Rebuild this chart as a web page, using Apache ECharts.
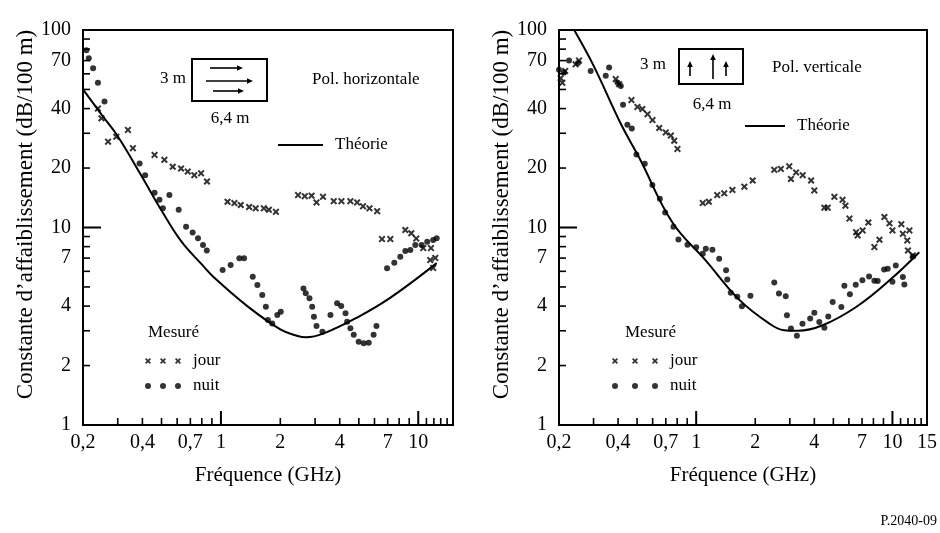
<!DOCTYPE html>
<html><head><meta charset="utf-8">
<script src="https://cdn.jsdelivr.net/npm/echarts@6/dist/echarts.min.js"></script>
<style>html,body{margin:0;padding:0;background:#fff}#c{width:940px;height:533px}</style>
</head><body><div id="c"></div><script>
// ---------- data (frequency GHz, attenuation dB/100 m) ----------
const leftTheory = [[0.2,50],[0.25,37],[0.3,29],[0.394,18.4],[0.5,12.2],[0.63,8.5],[0.8,6.5],[0.92,5.6],[1.36,4.0],[2.0,3.05],[2.45,2.82],[2.7,2.78],[3.3,2.9],[4.9,3.5],[7.2,4.4],[12.4,6.6]];
const leftJour = [[0.238,40],[0.248,35.7],[0.268,27.2],[0.295,28.8],[0.338,31.2],[0.358,25.2],[0.461,23.3],[0.517,22],[0.57,20.3],[0.628,19.9],[0.679,19.2],[0.733,18.4],[0.793,18.8],[0.85,17.1],
  [1.08,13.5],[1.17,13.3],[1.26,13],[1.39,12.7],[1.5,12.5],[1.65,12.5],[1.75,12.3],[1.9,12],
  [2.46,14.6],[2.66,14.4],[2.88,14.5],[3.05,13.4],[3.29,14.3],[3.73,13.6],[4.08,13.6],[4.53,13.6],[4.9,13.4],[5.25,12.8],[5.66,12.5],[6.19,12.1],
  [6.55,8.74],[7.22,8.74],[8.6,9.71],[9.22,9.35],[9.77,8.79],[10.6,7.87],[11.6,7.87],[11.5,6.84],[12.2,7.01],[11.9,6.24]];
const leftNuit = [[0.208,79],[0.214,72],[0.225,64],[0.238,54],[0.257,43.4],[0.387,21.1],[0.413,18.4],[0.461,15],[0.488,13.8],[0.508,12.5],[0.548,14.6],[0.611,12.3],[0.666,10.1],[0.719,9.44],[0.765,8.82],[0.811,8.15],[0.848,7.65],
  [1.02,6.09],[1.12,6.46],[1.24,6.98],[1.31,6.98],[1.45,5.63],[1.53,5.12],[1.62,4.55],[1.69,3.97],[1.73,3.4],[1.82,3.27],[1.93,3.61],[2.01,3.75],
  [2.62,4.91],[2.69,4.64],[2.81,4.38],[2.9,3.97],[2.96,3.53],[3.05,3.17],[3.27,2.97],[3.59,3.61],[3.88,4.13],[4.07,4.01],[4.28,3.68],[4.36,3.33],[4.53,3.09],[4.71,2.86],[4.99,2.64],[5.29,2.59],[5.61,2.61],[5.94,2.86],[6.14,3.17],
  [6.95,6.22],[7.56,6.63],[8.11,7.12],[8.6,7.6],[9.12,7.69],[9.66,8.15],[10.4,8.15],[11.1,8.47],[11.9,8.64],[12.4,8.82]];
const rightTheory = [[0.239,100],[0.3,66],[0.413,33.5],[0.512,22.6],[0.757,10.6],[1.12,6.8],[1.66,4.3],[2.36,3.26],[2.8,3.02],[3.3,3.0],[4.41,3.2],[6.53,3.96],[9.66,5.4],[13.7,7.5]];
const rightJour = [[0.204,57],[0.208,54],[0.215,62],[0.243,67],[0.253,70],[0.389,56.4],[0.405,53.2],[0.468,44.2],[0.502,40.8],[0.532,39.8],[0.565,37.5],[0.599,35],[0.648,31.9],[0.7,30.3],[0.743,29.2],[0.773,27.5],[0.803,25],
  [1.08,13.3],[1.16,13.5],[1.28,14.6],[1.39,14.9],[1.53,15.5],[1.76,16.1],[1.94,17.3],[2.5,19.6],[2.7,19.8],[2.98,20.4],[3.04,17.6],[3.23,19],[3.49,18.4],[3.85,17.3],[4,15.4],
  [4.5,12.6],[4.68,12.6],[5.06,14.3],[5.57,13.8],[5.76,12.9],[6.04,11.1],[6.53,9.47],[6.65,9.12],[7.05,9.66],[7.54,10.6],[8.09,7.96],[8.59,8.67],[9.1,11.3],[9.66,10.5],[10,9.66],[11.1,10.4],[11.3,9.29],[12.2,9.66],[11.9,8.6],[12,7.65],[12.7,7.22]];
const rightNuit = [[0.2,63],[0.212,61],[0.225,70],[0.25,68],[0.29,62],[0.346,58.6],[0.36,64.5],[0.397,54.2],[0.413,52],[0.424,41.8],[0.446,33.1],[0.47,31.7],[0.496,23.4],[0.547,21],[0.598,16.4],[0.653,14],[0.695,11.9],[0.766,10.1],[0.812,8.7],[0.903,8.18],
  [1.0,7.95],[1.08,7.36],[1.12,7.8],[1.21,7.71],[1.31,6.95],[1.42,6.07],[1.44,5.46],[1.5,4.67],[1.62,4.46],[1.71,3.99],[1.89,4.51],[2.5,5.27],[2.64,4.63],[2.86,4.48],[2.9,3.59],[3.04,3.08],[3.26,2.83],[3.48,3.26],[3.81,3.46],[4,3.7],[4.24,3.32],[4.5,3.11],[4.71,3.54],[4.96,4.2],
  [5.49,3.96],[5.69,5.07],[6.07,4.59],[6.5,5.13],[7.03,5.4],[7.6,5.64],[8.09,5.38],[8.41,5.36],[9.07,6.12],[9.46,6.19],[10.4,6.43],[10,5.32],[11.3,5.61],[11.5,5.15],[12.7,7.14]];

// ---------- tick labels / tick marks ----------
const xLabelsLeft = [0.2,0.4,0.7,1,2,4,7,10];
const xLabelsRight = [0.2,0.4,0.7,1,2,4,7,10,15];
const yLabels = [1,2,4,7,10,20,40,70,100];
const xMinorTicks = [0.3,0.4,0.5,0.6,0.7,0.8,0.9,2,3,4,5,6,7,8,9,11,12,13,14];
const xMajorTicks = [1,10];
const yMinorTicks = [2,3,4,5,6,7,8,9,20,30,40,50,60,70,80,90];
const yMajorTicks = [10];
const X_MIN = 0.2, X_MAX = 15, Y_MIN = 1, Y_MAX = 100;

const FONT = "'Liberation Serif', 'Times New Roman', serif";
const BLACK = '#000';
const fmt = v => String(+(+v).toPrecision(3)).replace('.', ',');

const CROSS = 'path://M0,2 L2,0 L5,3 L8,0 L10,2 L7,5 L10,8 L8,10 L5,7 L2,10 L0,8 L3,5 Z';
function crossesIcon(s){ let p=''; for(let i=0;i<3;i++){const x=i*s; p+=`M${x},1.2 L${x+1.2},0 L${x+3},1.8 L${x+4.8},0 L${x+6},1.2 L${x+4.2},3 L${x+6},4.8 L${x+4.8},6 L${x+3},4.2 L${x+1.2},6 L${x},4.8 L${x+1.8},3 Z `;} return 'path://'+p; }
function dotsIcon(s){ let p=''; for(let i=0;i<3;i++){const x=i*s; p+=`M${x},3 A3,3 0 1,0 ${x+6},3 A3,3 0 1,0 ${x},3 Z `;} return 'path://'+p; }

const grids = [
  {left:83, top:30, width:370, height:395},
  {left:559, top:30, width:369, height:395}
];
function xMain(gi, labels){ return {
  type:'log', logBase:10, gridIndex:gi, min:X_MIN, max:X_MAX,
  name:'Fréquence (GHz)', nameLocation:'middle', nameGap:40,
  nameTextStyle:{fontFamily:FONT, fontSize:21, color:BLACK},
  axisLine:{show:true, lineStyle:{color:BLACK, width:2}},
  axisTick:{show:false},
  axisLabel:{customValues:labels, formatter:fmt, fontFamily:FONT, fontSize:20, color:BLACK, margin:8},
  splitLine:{show:false}, minorTick:{show:false}
};}
function yMain(gi){ return {
  type:'log', logBase:10, gridIndex:gi, min:Y_MIN, max:Y_MAX,
  name:"Constante d’affaiblissement (dB/100 m)", nameLocation:'middle', nameGap:46,
  nameTextStyle:{fontFamily:FONT, fontSize:23, color:BLACK, padding:[0,0,0,26]},
  axisLine:{show:true, lineStyle:{color:BLACK, width:2}},
  axisTick:{show:false},
  axisLabel:{customValues:yLabels, formatter:fmt, fontFamily:FONT, fontSize:20, color:BLACK, margin:12},
  splitLine:{show:false}, minorTick:{show:false}
};}

// tick marks drawn through the axes' own scales (custom series, api.coord)
function tickSeries(i, data, dx, dy, lw){
  return {
    type:'custom', xAxisIndex:i, yAxisIndex:i, silent:true, clip:false, z:5,
    data,
    renderItem:(params, api) => {
      const p = api.coord([api.value(0), api.value(1)]);
      return {type:'line', shape:{x1:p[0], y1:p[1], x2:p[0]+dx, y2:p[1]+dy}, style:{stroke:BLACK, lineWidth:lw}};
    }
  };
}
function allTicks(i){
  return [
    tickSeries(i, xMinorTicks.map(v=>[v,Y_MIN]), 0, -7, 1.6),
    tickSeries(i, xMajorTicks.map(v=>[v,Y_MIN]), 0, -14, 2),
    tickSeries(i, yMinorTicks.map(v=>[X_MIN,v]), 7, 0, 1.6),
    tickSeries(i, yMajorTicks.map(v=>[X_MIN,v]), 18, 0, 2)
  ];
}

function theory(i, data){ return {name:'Théorie', type:'line', xAxisIndex:i, yAxisIndex:i, data, smooth:0.4, showSymbol:false, symbol:'none', lineStyle:{color:BLACK, width:2}, itemStyle:{color:BLACK}, z:3}; }
function jour(i, data){ return {name:'jour', type:'scatter', xAxisIndex:i, yAxisIndex:i, data, symbol:CROSS, symbolSize:7, itemStyle:{color:BLACK}, z:4}; }
function nuit(i, data){ return {name:'nuit', type:'scatter', xAxisIndex:i, yAxisIndex:i, data, symbol:'circle', symbolSize:6, itemStyle:{color:BLACK}, z:4}; }

const legTxt = {fontFamily:FONT, fontSize:17, color:BLACK, lineHeight:18};
function measLegend(left, s){ return {
  orient:'vertical', left, top:352, padding:0, itemGap:7, itemWidth:2*s+6, itemHeight:6, selectedMode:false,
  textStyle:Object.assign({}, legTxt, {padding:[0,0,0,7]}),
  data:[{name:'jour', icon:crossesIcon(s)}, {name:'nuit', icon:dotsIcon(s)}]
};}
function theoLegend(left, top, w){ return {
  left, top, padding:0, itemWidth:w, itemHeight:2, selectedMode:false,
  textStyle:Object.assign({}, legTxt, {padding:[0,0,0,7]}),
  data:[{name:'Théorie', icon:'rect'}]
};}

function txt(x, y, text, align, size){ return {type:'text', x, y, style:{text, fontFamily:FONT, fontSize:size||17, fill:BLACK, align:align||'left', verticalAlign:'middle'}}; }
function arrow(x1,y1,x2,y2){
  const dx=x2-x1, dy=y2-y1, L=Math.hypot(dx,dy), ux=dx/L, uy=dy/L, h=6, w=2.8;
  const bx=x2-ux*h, by=y2-uy*h;
  return [
    {type:'line', shape:{x1,y1,x2:bx,y2:by}, style:{stroke:BLACK, lineWidth:1.6}},
    {type:'polygon', shape:{points:[[x2,y2],[bx-uy*w,by+ux*w],[bx+uy*w,by-ux*w]]}, style:{fill:BLACK}}
  ];
}
const graphics = [
  {type:'rect', shape:{x:192, y:59, width:75, height:42}, style:{fill:'none', stroke:BLACK, lineWidth:2}},
  ...arrow(210,68,243,68), ...arrow(206,81,253,81), ...arrow(213,91,244,91),
  txt(173,79,'3 m','center'), txt(230,119,'6,4 m','center'),
  txt(312,80,'Pol. horizontale'), txt(148,333,'Mesuré'),
  {type:'rect', shape:{x:679, y:49, width:64, height:35}, style:{fill:'none', stroke:BLACK, lineWidth:2}},
  ...arrow(690,76,690,61), ...arrow(713,79,713,54), ...arrow(726,76,726,61),
  txt(653,65,'3 m','center'), txt(712,105,'6,4 m','center'),
  txt(772,68,'Pol. verticale'), txt(625,333,'Mesuré'),
  txt(937,521,'P.2040-09','right',14)
];

const chart = echarts.init(document.getElementById('c'), null, {renderer:'canvas'});
chart.setOption({
  backgroundColor:'#fff', animation:false,
  textStyle:{fontFamily:FONT},
  grid: grids.map(g => Object.assign({show:true, borderColor:BLACK, borderWidth:2, containLabel:false}, g)),
  xAxis:[xMain(0,xLabelsLeft), xMain(1,xLabelsRight)],
  yAxis:[yMain(0), yMain(1)],
  legend:[theoLegend(278,136,45), theoLegend(745,117,40), measLegend(145,15), measLegend(612,20)],
  series:[theory(0,leftTheory), jour(0,leftJour), nuit(0,leftNuit), theory(1,rightTheory), jour(1,rightJour), nuit(1,rightNuit),
          ...allTicks(0), ...allTicks(1)],
  graphic: graphics
});
</script></body></html>
